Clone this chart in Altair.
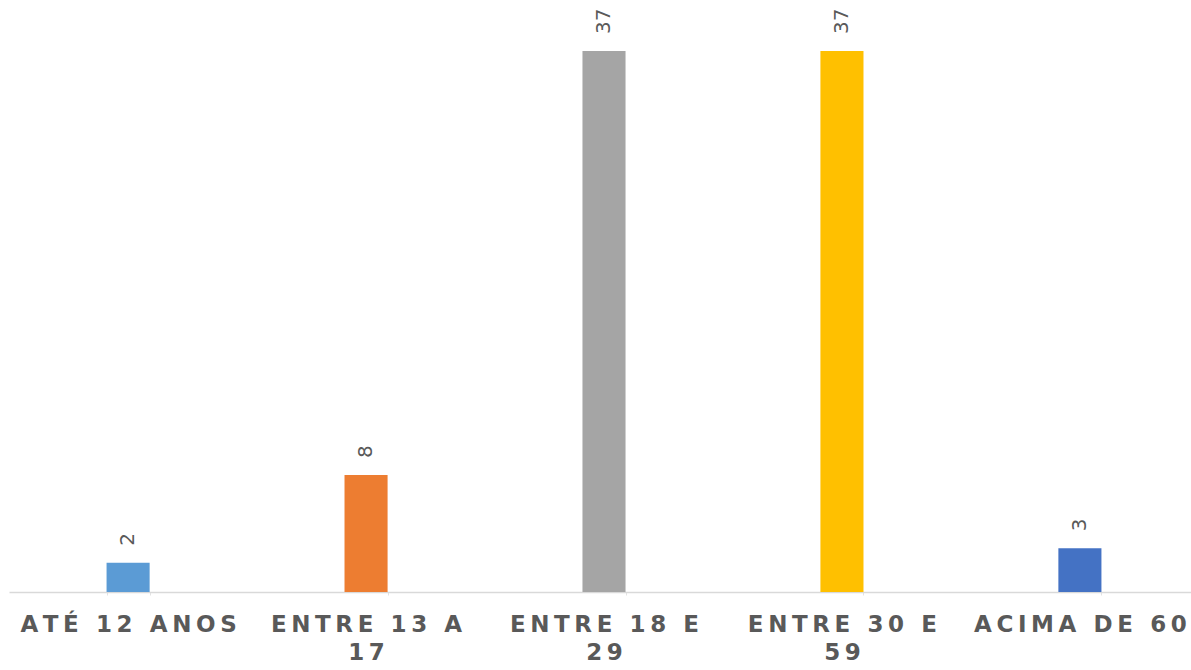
import altair as alt
import pandas as pd

categories = ["ATÉ 12 ANOS", "ENTRE 13 A 17", "ENTRE 18 E 29", "ENTRE 30 E 59", "ACIMA DE 60"]
values = [2, 8, 37, 37, 3]
colors = ["#5B9BD5", "#ED7D31", "#A5A5A5", "#FFC000", "#4472C4"]

df = pd.DataFrame({"cat": categories, "value": values})

TS = "\u2009"


def sp(e):
    return f"join(split({e},''),'{TS}')"


label_expr = (
    "indexof(datum.label,'ENTRE')==0 ? ["
    + sp("substring(datum.label,0,length(datum.label)-3)")
    + ","
    + sp("substring(datum.label,length(datum.label)-2)")
    + "] : "
    + sp("datum.label")
)

x_enc = alt.X(
    "cat:N",
    sort=categories,
    title=None,
    scale=alt.Scale(range=[0, 1190], paddingInner=0.819, paddingOuter=0.41),
    axis=alt.Axis(
        labelAngle=0,
        labelExpr=label_expr,
        labelFont="DejaVu Sans",
        labelFontWeight="bold",
        labelFontSize=23,
        labelColor="#595959",
        labelLineHeight=28,
        labelPadding=18,
        labelOverlap=False,
        labelLimit=0,
        domainColor="#D9D9D9",
        domainWidth=1.5,
        tickColor="#E3E3E3",
        tickSize=3,
        tickBand="extent",
        grid=False,
    ),
)

y_enc = alt.Y("value:Q", scale=alt.Scale(domain=[0, 37], nice=False), axis=None)

bars = alt.Chart(df).mark_bar().encode(
    x=x_enc,
    y=y_enc,
    color=alt.Color("cat:N", scale=alt.Scale(domain=categories, range=colors), legend=None),
)

text = alt.Chart(df).mark_text(
    angle=270, align="left", baseline="middle", dx=17, fontSize=20,
    color="#595959", font="DejaVu Sans"
).encode(x=x_enc, y=y_enc, text="value:Q")

chart = (
    alt.layer(bars, text)
    .properties(
        width=1182,
        height=541,
        padding={"left": 9, "top": 51, "right": 0, "bottom": 78},
        autosize=alt.AutoSizeParams(type="none"),
        background="white",
    )
    .configure_view(stroke=None)
)

chart.save("out.html", embed_options={"renderer": "svg", "actions": False})
